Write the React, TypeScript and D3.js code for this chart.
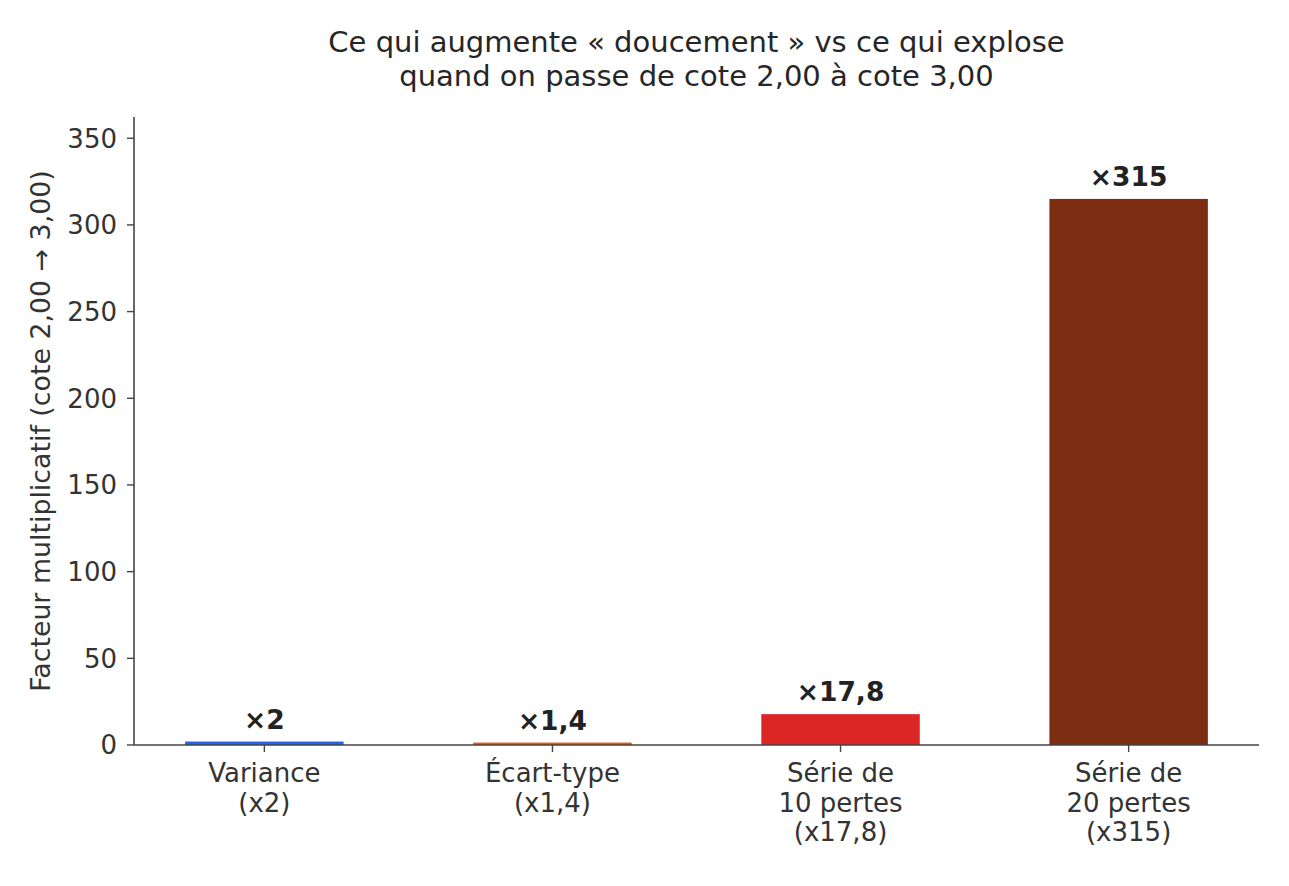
import React from "react";
import * as d3 from "d3";

const categories = ["Variance\n(x2)", "Écart-type\n(x1,4)", "Série de\n10 pertes\n(x17,8)", "Série de\n20 pertes\n(x315)"];
const values = [2, 1.4, 17.8, 315];
const valueLabels = ["×2", "×1,4", "×17,8", "×315"];
const colors = ["#2563eb", "#ea580c", "#dc2626", "#7c2d12"];
const yTicks = [0, 50, 100, 150, 200, 250, 300, 350];
const titleLines = ["Ce qui augmente « doucement » vs ce qui explose", "quand on passe de cote 2,00 à cote 3,00"];
const yLabel = "Facteur multiplicatif (cote 2,00 → 3,00)";

const W = 1289, H = 886;
const L = 134, R = 1259, T = 117, B = 745;
const FONT = "DejaVu Sans";
const FS = 26;

export default function App() {
  const n = values.length;
  const bw = 0.55;
  const x = d3.scaleLinear().domain([-bw / 2 - 0.05 * (n - 1 + bw), n - 1 + bw / 2 + 0.05 * (n - 1 + bw)]).range([L, R]);
  const y = d3.scaleLinear().domain([0, d3.max(values)! * 1.15]).range([B, T]);
  const unit = x(1) - x(0);
  return (
    <svg width={W} height={H} style={{ position: "absolute", left: 0, top: 0, background: "#fff" }} fontFamily={FONT}>
      <rect x={0} y={0} width={W} height={H} fill="#fff" />
      {titleLines.map((t, i) => (
        <text key={i} x={(L + R) / 2} y={52 + i * 34} textAnchor="middle" fontSize={29} fill="#262626">{t}</text>
      ))}
      {values.map((v, i) => (
        <g key={i}>
          <rect x={x(i) - (bw * unit) / 2} y={y(v)} width={bw * unit} height={B - y(v)} fill={colors[i]} />
          <text x={x(i)} y={y(v) - 13} textAnchor="middle" fontSize={26.5} fontWeight="bold" fill="#222">{valueLabels[i]}</text>
        </g>
      ))}
      {yTicks.map((t) => (
        <g key={t}>
          <line x1={L - 7} x2={L} y1={y(t)} y2={y(t)} stroke="#444" strokeWidth={1.4} />
          <text x={L - 17} y={y(t)} dy="0.36em" textAnchor="end" fontSize={FS} fill="#333">{t}</text>
        </g>
      ))}
      {categories.map((c, i) => (
        <g key={i}>
          <line x1={x(i)} x2={x(i)} y1={B} y2={B + 7} stroke="#444" strokeWidth={1.4} />
          {c.split("\n").map((ln, j) => (
            <text key={j} x={x(i)} y={B + 37 + j * 29.5} textAnchor="middle" fontSize={FS} fill="#333">{ln}</text>
          ))}
        </g>
      ))}
      <line x1={L} x2={L} y1={T} y2={B} stroke="#444" strokeWidth={1.6} />
      <line x1={L} x2={R} y1={B} y2={B} stroke="#444" strokeWidth={1.6} />
      <text transform={`translate(50,${(T + B) / 2}) rotate(-90)`} textAnchor="middle" fontSize={26.8} fill="#333">{yLabel}</text>
    </svg>
  );
}
